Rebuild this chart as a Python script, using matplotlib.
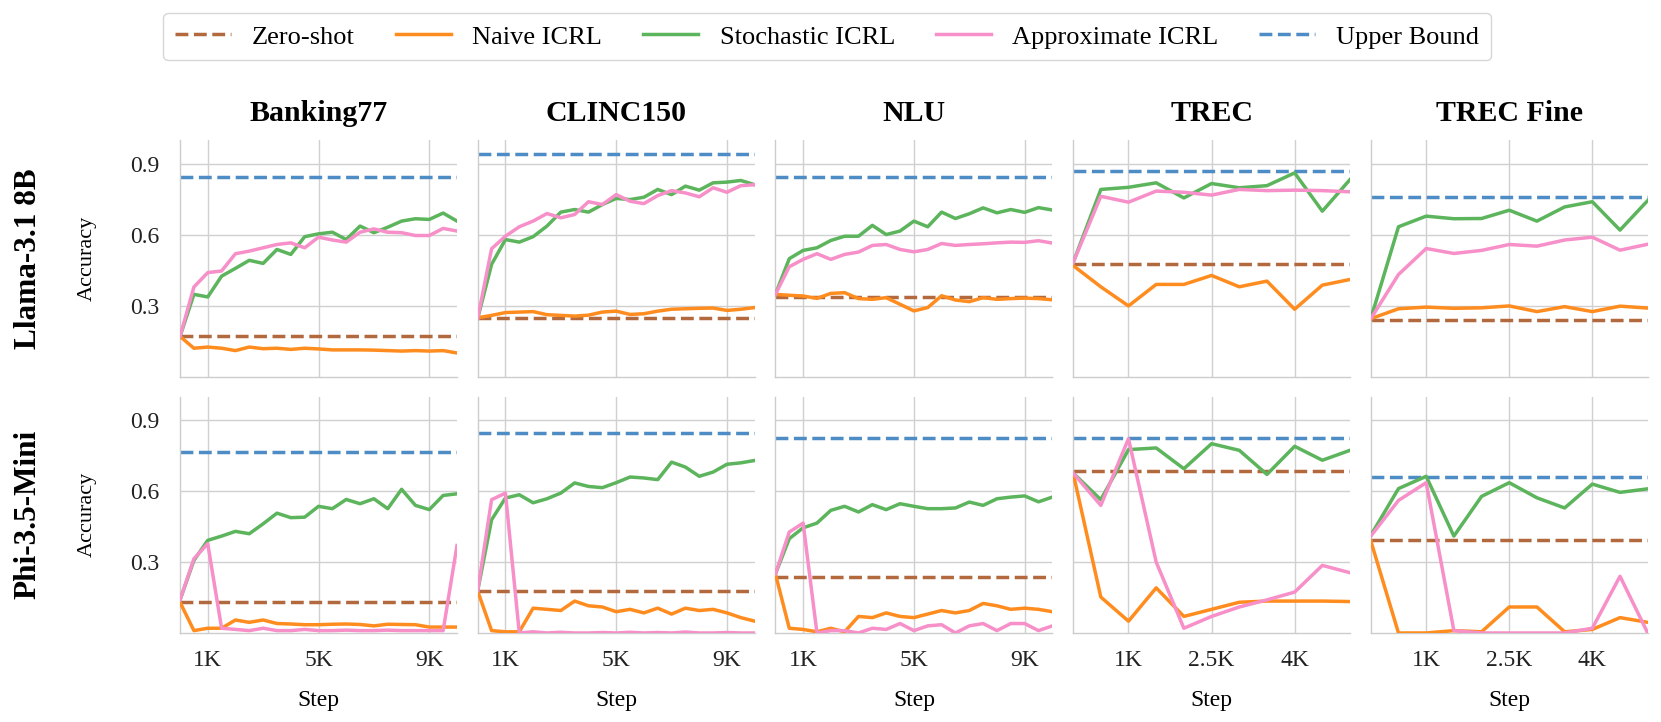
import matplotlib
matplotlib.use("Agg")
import matplotlib.pyplot as plt
from matplotlib.lines import Line2D

# Pasos de entrenamiento
PASOS_LARGOS = list(range(0, 10001, 500))   # Banking77, CLINC150, NLU
PASOS_CORTOS = list(range(0, 5001, 500))    # TREC, TREC Fine

DATASETS = ['Banking77', 'CLINC150', 'NLU', 'TREC', 'TREC Fine']
MODELOS = ['Llama-3.1 8B', 'Phi-3.5-Mini']

# ---------------- Llama-3.1 8B ----------------
llama_zero = [0.172, 0.247, 0.338, 0.476, 0.240]
llama_upper = [0.845, 0.944, 0.844, 0.872, 0.759]

llama_banking_naive = [0.17, 0.12, 0.125, 0.12, 0.11, 0.125, 0.118, 0.12, 0.115, 0.12, 0.117,
                       0.113, 0.113, 0.113, 0.112, 0.11, 0.108, 0.11, 0.108, 0.11, 0.10]
llama_banking_stoch = [0.17, 0.348, 0.337, 0.425, 0.458, 0.492, 0.479, 0.538, 0.517, 0.592, 0.604,
                       0.611, 0.580, 0.637, 0.609, 0.632, 0.658, 0.668, 0.665, 0.692, 0.658]
llama_banking_approx = [0.17, 0.379, 0.440, 0.447, 0.520, 0.531, 0.545, 0.559, 0.566, 0.545, 0.590,
                        0.578, 0.569, 0.611, 0.625, 0.611, 0.609, 0.597, 0.597, 0.627, 0.616]

llama_clinc_naive = [0.249, 0.259, 0.271, 0.273, 0.275, 0.262, 0.259, 0.256, 0.260, 0.273, 0.277,
                     0.263, 0.266, 0.277, 0.285, 0.287, 0.289, 0.290, 0.280, 0.285, 0.292]
llama_clinc_stoch = [0.247, 0.475, 0.580, 0.569, 0.592, 0.637, 0.696, 0.707, 0.696, 0.728, 0.754,
                     0.749, 0.759, 0.792, 0.770, 0.806, 0.789, 0.820, 0.823, 0.830, 0.812]
llama_clinc_approx = [0.247, 0.541, 0.594, 0.634, 0.658, 0.690, 0.672, 0.686, 0.740, 0.728, 0.770,
                      0.742, 0.732, 0.766, 0.787, 0.777, 0.761, 0.799, 0.780, 0.808, 0.812]

llama_nlu_naive = [0.348, 0.344, 0.341, 0.331, 0.352, 0.355, 0.330, 0.327, 0.334, 0.306, 0.278,
                   0.292, 0.342, 0.324, 0.317, 0.334, 0.327, 0.330, 0.332, 0.330, 0.325]
llama_nlu_stoch = [0.348, 0.499, 0.534, 0.545, 0.576, 0.594, 0.594, 0.640, 0.601, 0.616, 0.658,
                   0.634, 0.696, 0.669, 0.689, 0.714, 0.693, 0.707, 0.695, 0.715, 0.705]
llama_nlu_approx = [0.348, 0.465, 0.496, 0.520, 0.496, 0.517, 0.527, 0.555, 0.559, 0.538, 0.528,
                    0.538, 0.563, 0.555, 0.559, 0.562, 0.566, 0.569, 0.568, 0.575, 0.565]

llama_trec_naive = [0.47, 0.38, 0.299, 0.39, 0.39, 0.428, 0.38, 0.404, 0.285, 0.387, 0.411]
llama_trec_stoch = [0.482, 0.792, 0.801, 0.820, 0.756, 0.817, 0.799, 0.808, 0.862, 0.700, 0.834]
llama_trec_approx = [0.482, 0.763, 0.738, 0.785, 0.780, 0.768, 0.792, 0.787, 0.789, 0.787, 0.782]

llama_fine_naive = [0.245, 0.287, 0.294, 0.289, 0.291, 0.299, 0.275, 0.296, 0.275, 0.298, 0.29]
llama_fine_stoch = [0.245, 0.634, 0.679, 0.668, 0.669, 0.704, 0.658, 0.718, 0.74, 0.62, 0.745]
llama_fine_approx = [0.245, 0.432, 0.542, 0.521, 0.534, 0.559, 0.552, 0.578, 0.59, 0.535, 0.56]

# ---------------- Phi-3.5-Mini ----------------
phi_zero = [0.130, 0.177, 0.238, 0.684, 0.392]
phi_upper = [0.766, 0.846, 0.825, 0.825, 0.660]

phi_banking_naive = [0.13, 0.01, 0.02, 0.02, 0.055, 0.045, 0.055, 0.04, 0.038, 0.035, 0.035,
                     0.037, 0.038, 0.036, 0.03, 0.037, 0.036, 0.035, 0.025, 0.025, 0.025]
phi_banking_stoch = [0.14, 0.307, 0.392, 0.410, 0.430, 0.420, 0.462, 0.507, 0.488, 0.490, 0.536,
                     0.526, 0.565, 0.547, 0.568, 0.526, 0.608, 0.540, 0.522, 0.582, 0.589]
phi_banking_approx = [0.14, 0.314, 0.378, 0.02, 0.015, 0.01, 0.02, 0.01, 0.01, 0.015, 0.01,
                      0.01, 0.012, 0.01, 0.01, 0.012, 0.01, 0.01, 0.01, 0.01, 0.37]

phi_clinc_naive = [0.177, 0.01, 0.005, 0.005, 0.105, 0.10, 0.095, 0.135, 0.115, 0.11, 0.09,
                   0.10, 0.085, 0.105, 0.08, 0.105, 0.095, 0.10, 0.085, 0.065, 0.05]
phi_clinc_stoch = [0.18, 0.479, 0.571, 0.585, 0.551, 0.568, 0.592, 0.635, 0.620, 0.615, 0.636,
                   0.660, 0.656, 0.649, 0.723, 0.702, 0.663, 0.681, 0.714, 0.720, 0.730]
phi_clinc_approx = [0.18, 0.564, 0.592, 0.0, 0.005, 0.0, 0.003, 0.0, 0.0, 0.002, 0.0,
                    0.003, 0.0, 0.002, 0.0, 0.004, 0.0, 0.0, 0.002, 0.0, 0.0]

phi_nlu_naive = [0.25, 0.02, 0.015, 0.005, 0.02, 0.005, 0.07, 0.065, 0.085, 0.07, 0.065,
                 0.08, 0.095, 0.085, 0.095, 0.125, 0.115, 0.10, 0.105, 0.10, 0.09]
phi_nlu_stoch = [0.25, 0.399, 0.445, 0.465, 0.519, 0.536, 0.512, 0.543, 0.522, 0.547, 0.536,
                 0.526, 0.526, 0.529, 0.554, 0.540, 0.568, 0.575, 0.580, 0.555, 0.575]
phi_nlu_approx = [0.25, 0.427, 0.465, 0.0, 0.01, 0.01, 0.0, 0.02, 0.015, 0.04, 0.01,
                  0.03, 0.035, 0.0, 0.03, 0.04, 0.01, 0.04, 0.04, 0.01, 0.03]

phi_trec_naive = [0.677, 0.152, 0.05, 0.191, 0.07, 0.10, 0.13, 0.135, 0.135, 0.135, 0.133]
phi_trec_stoch = [0.677, 0.564, 0.776, 0.783, 0.695, 0.801, 0.773, 0.671, 0.790, 0.731, 0.773]
phi_trec_approx = [0.677, 0.540, 0.822, 0.30, 0.02, 0.07, 0.11, 0.14, 0.173, 0.286, 0.255]

phi_fine_naive = [0.39, 0.0, 0.0, 0.01, 0.005, 0.11, 0.11, 0.005, 0.015, 0.065, 0.045]
phi_fine_stoch = [0.413, 0.611, 0.663, 0.41, 0.578, 0.636, 0.572, 0.529, 0.63, 0.595, 0.61]
phi_fine_approx = [0.41, 0.561, 0.636, 0.01, 0.0, 0.0, 0.0, 0.0, 0.02, 0.24, 0.0]

# Tablas por modelo: (naive, stochastic, approximate) para cada dataset
CURVAS = [
    [(llama_banking_naive, llama_banking_stoch, llama_banking_approx),
     (llama_clinc_naive, llama_clinc_stoch, llama_clinc_approx),
     (llama_nlu_naive, llama_nlu_stoch, llama_nlu_approx),
     (llama_trec_naive, llama_trec_stoch, llama_trec_approx),
     (llama_fine_naive, llama_fine_stoch, llama_fine_approx)],
    [(phi_banking_naive, phi_banking_stoch, phi_banking_approx),
     (phi_clinc_naive, phi_clinc_stoch, phi_clinc_approx),
     (phi_nlu_naive, phi_nlu_stoch, phi_nlu_approx),
     (phi_trec_naive, phi_trec_stoch, phi_trec_approx),
     (phi_fine_naive, phi_fine_stoch, phi_fine_approx)],
]
ZERO = [llama_zero, phi_zero]
UPPER = [llama_upper, phi_upper]

# Colores
C_ZERO = '#b3693e'
C_NAIVE = '#ff8c1f'
C_STOCH = '#5cb45c'
C_APPROX = '#f78fc8'
C_UPPER = '#4d8cc4'
LW = 2.5

plt.rcParams['font.family'] = ['Liberation Serif', 'DejaVu Serif']

fig, axes = plt.subplots(2, 5, figsize=(16.61, 7.22), dpi=100)
fig.subplots_adjust(left=0.1084, right=0.992, top=0.8057, bottom=0.1233,
                    wspace=0.075, hspace=0.085)

for fila in range(2):
    for col in range(5):
        ax = axes[fila][col]
        largo = col < 3
        pasos = PASOS_LARGOS if largo else PASOS_CORTOS
        naive, stoch, approx = CURVAS[fila][col]

        ax.axhline(ZERO[fila][col], color=C_ZERO, lw=LW, ls='--', zorder=2)
        ax.plot(pasos, naive, color=C_NAIVE, lw=LW, zorder=3)
        ax.plot(pasos, stoch, color=C_STOCH, lw=LW, zorder=3)
        ax.plot(pasos, approx, color=C_APPROX, lw=LW, zorder=3)
        ax.axhline(UPPER[fila][col], color=C_UPPER, lw=LW, ls='--', zorder=2)

        ax.set_xlim(pasos[0], pasos[-1])
        ax.set_ylim(0, 1.0)
        ax.set_yticks([0.3, 0.6, 0.9])
        if largo:
            ax.set_xticks([1000, 5000, 9000])
            ax.set_xticklabels(['1K', '5K', '9K'])
        else:
            ax.set_xticks([1000, 2500, 4000])
            ax.set_xticklabels(['1K', '2.5K', '4K'])

        # Estilo tipo seaborn whitegrid sin bordes arriba/derecha
        ax.grid(True, color='#d0d0d0', lw=1.0)
        ax.set_axisbelow(True)
        for lado in ['top', 'right']:
            ax.spines[lado].set_visible(False)
        for lado in ['left', 'bottom']:
            ax.spines[lado].set_color('#cccccc')
            ax.spines[lado].set_linewidth(1.0)
        ax.tick_params(length=0, labelsize=17, colors='#222222')
        ax.tick_params(axis='y', pad=15)
        ax.tick_params(axis='x', pad=12)

        if fila == 0:
            ax.set_title(DATASETS[col], fontsize=21.5, fontweight='bold', pad=14)
            ax.tick_params(labelbottom=False)
        else:
            ax.set_xlabel('Step', fontsize=17, labelpad=14)
        if col == 0:
            ax.set_ylabel('Accuracy', fontsize=16, labelpad=24)
        else:
            ax.tick_params(labelleft=False)

# Etiquetas de fila (modelos)
for fila in range(2):
    pos = axes[fila][0].get_position()
    fig.text(0.017, (pos.y0 + pos.y1) / 2, MODELOS[fila], rotation=90,
             ha='center', va='center', fontsize=22.5, fontweight='bold')

# Leyenda comun
manejadores = [
    Line2D([], [], color=C_ZERO, lw=LW, ls='--'),
    Line2D([], [], color=C_NAIVE, lw=LW),
    Line2D([], [], color=C_STOCH, lw=LW),
    Line2D([], [], color=C_APPROX, lw=LW),
    Line2D([], [], color=C_UPPER, lw=LW, ls='--'),
]
etiquetas = ['Zero-shot', 'Naive ICRL', 'Stochastic ICRL', 'Approximate ICRL', 'Upper Bound']
fig.legend(manejadores, etiquetas, loc='upper center', bbox_to_anchor=(0.498, 1.0),
           ncol=5, fontsize=19, frameon=True, fancybox=True, edgecolor='#cccccc',
           handlelength=2.1, columnspacing=1.55, borderpad=0.45)

fig.savefig('out.png', dpi=100)
